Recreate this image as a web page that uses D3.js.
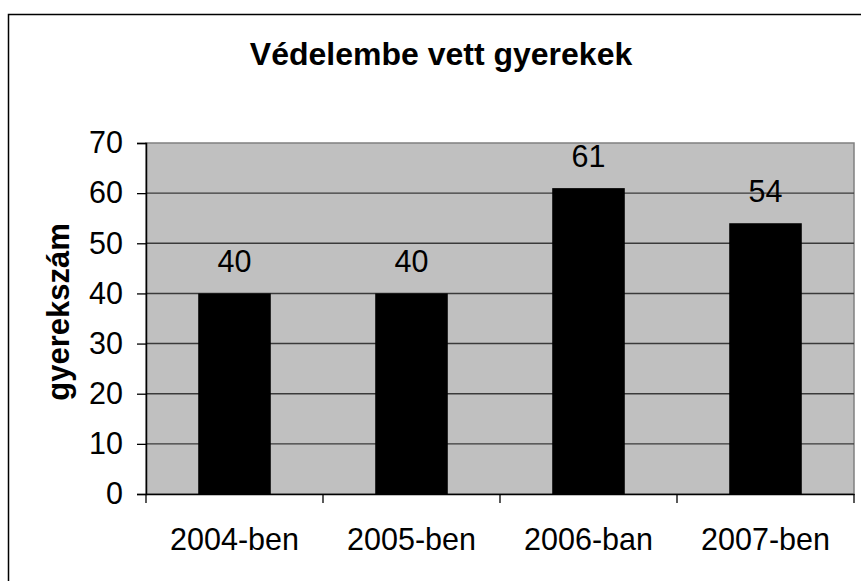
<!DOCTYPE html>
<html lang="hu">
<head>
  <meta charset="UTF-8">
  <title>Védelembe vett gyerekek</title>
  <style>
    * { margin: 0; padding: 0; box-sizing: border-box; }
    body { background: #fff; font-family: "Liberation Sans", Arial, sans-serif; }
    svg { display: block; }
  </style>
</head>
<body>
  <div id="chart"></div>

  <script src="https://d3js.org/d3.v7.min.js"></script>
  <script>
  // data
  var categories = ["2004-ben", "2005-ben", "2006-ban", "2007-ben"];
  var values = [40, 40, 61, 54];
  var yTicks = [0, 10, 20, 30, 40, 50, 60, 70];
  var chartTitle = "Védelembe vett gyerekek";
  var yTitle = "gyerekszám";

  var W = 861, H = 581;
  var plot = {left: 146, top: 143, right: 854, bottom: 494};

  var svg = d3.select("#chart")
    .append("svg")
      .attr("width", W)
      .attr("height", H);

  // outer frame (runs past the right / bottom edge)
  svg.append("rect")
    .attr("x", 8.5)
    .attr("y", 14.5)
    .attr("width", 900)
    .attr("height", 620)
    .attr("fill", "#fff")
    .attr("stroke", "#000")
    .attr("stroke-width", 1.5);

  var x = d3.scaleBand()
    .domain(categories)
    .range([plot.left, plot.right])
    .padding(0);

  var y = d3.scaleLinear()
    .domain([0, 70])
    .range([plot.bottom, plot.top]);

  // plot area background
  svg.append("rect")
    .attr("x", plot.left)
    .attr("y", plot.top)
    .attr("width", plot.right - plot.left)
    .attr("height", plot.bottom - plot.top)
    .attr("fill", "#c0c0c0")
    .attr("stroke", "#808080")
    .attr("stroke-width", 1.5);

  // gridlines
  svg.append("g")
    .selectAll("line")
    .data(yTicks.filter(function(d) { return d > 0 && d < 70; }))
    .enter()
    .append("line")
      .attr("x1", plot.left)
      .attr("x2", plot.right)
      .attr("y1", function(d) { return y(d); })
      .attr("y2", function(d) { return y(d); })
      .attr("stroke", "#3a3a3a")
      .attr("stroke-width", 1.4);

  // bars
  var barW = x.bandwidth() * 0.41;
  svg.selectAll("rect.bar")
    .data(values)
    .enter()
    .append("rect")
      .attr("class", "bar")
      .attr("x", function(d, i) { return x(categories[i]) + (x.bandwidth() - barW) / 2; })
      .attr("y", function(d) { return y(d); })
      .attr("width", barW)
      .attr("height", function(d) { return y(0) - y(d); })
      .attr("fill", "#000");

  // value labels
  svg.selectAll("text.val")
    .data(values)
    .enter()
    .append("text")
      .attr("class", "val")
      .attr("x", function(d, i) { return x(categories[i]) + x.bandwidth() / 2; })
      .attr("y", function(d) { return y(d) - 21; })
      .attr("text-anchor", "middle")
      .style("font-size", "30.5px")
      .text(function(d) { return d; });

  // y axis
  var yAxis = svg.append("g")
    .attr("transform", "translate(" + plot.left + ",0)")
    .call(d3.axisLeft(y).tickValues(yTicks).tickSize(9).tickPadding(14));
  yAxis.select(".domain").attr("stroke", "#000").attr("stroke-width", 1.5);
  yAxis.selectAll(".tick line").attr("stroke", "#000").attr("stroke-width", 1.3);
  yAxis.selectAll("text")
    .style("font-family", "'Liberation Sans', Arial, sans-serif")
    .style("font-size", "30.5px")
    .attr("fill", "#000");

  // x axis
  var xAxis = svg.append("g")
    .attr("transform", "translate(0," + plot.bottom + ")")
    .call(d3.axisBottom(x).tickSize(0).tickPadding(34));
  xAxis.select(".domain").attr("stroke", "#000").attr("stroke-width", 1.5);
  xAxis.selectAll("text")
    .style("font-family", "'Liberation Sans', Arial, sans-serif")
    .style("font-size", "30.5px")
    .attr("fill", "#000");

  // category boundary ticks
  svg.append("g")
    .selectAll("line")
    .data(categories.concat(["end"]))
    .enter()
    .append("line")
      .attr("x1", function(d, i) { return i < categories.length ? x(d) : x.range()[1]; })
      .attr("x2", function(d, i) { return i < categories.length ? x(d) : x.range()[1]; })
      .attr("y1", plot.bottom)
      .attr("y2", plot.bottom + 9)
      .attr("stroke", "#000")
      .attr("stroke-width", 1.3);

  // title
  svg.append("text")
    .attr("x", 441)
    .attr("y", 65)
    .attr("text-anchor", "middle")
    .style("font-size", "32px")
    .style("font-weight", "bold")
    .text(chartTitle);

  // y axis title
  svg.append("text")
    .attr("transform", "translate(69," + 312 + ")rotate(-90)")
    .attr("text-anchor", "middle")
    .style("font-size", "31px")
    .style("font-weight", "bold")
    .text(yTitle);
  </script>
</body>
</html>
